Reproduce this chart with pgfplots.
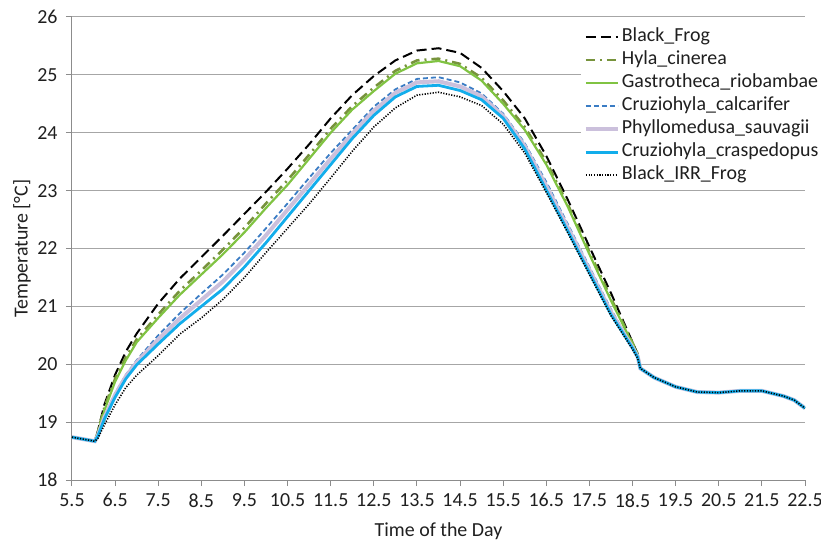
\documentclass[border=0pt]{standalone}
\usepackage{fontspec}
\setmainfont{Carlito}
\usepackage{pgfplots}
\pgfplotsset{compat=1.18}
\definecolor{hyla}{HTML}{77933C}
\definecolor{gastro}{HTML}{80C342}
\definecolor{calc}{HTML}{3A7CC4}
\definecolor{phyllo}{HTML}{CBC0DC}
\definecolor{crasp}{HTML}{12ADEB}
\definecolor{gridc}{HTML}{A6A6A6}
\definecolor{axc}{HTML}{8C8C8C}
\begin{document}
\begin{tikzpicture}
\begin{axis}[
  at={(0,0)}, anchor=south west,
  scale only axis, width=733bp, height=463bp,
  xmin=5.5, xmax=22.5, ymin=18, ymax=26,
  xtick={5.5,6.5,7.5,8.5,9.5,10.5,11.5,12.5,13.5,14.5,15.5,16.5,17.5,18.5,19.5,20.5,21.5,22.5},
  ytick={18,19,20,21,22,23,24,25,26},
  /pgf/number format/assume math mode=true,
  x tick label style={/pgf/number format/.cd, fixed, fixed zerofill, precision=1, /tikz/.cd, yshift=-4bp},
  y tick label style={xshift=-5bp},
  tick align=outside, major tick length=6bp,
  axis x line*=bottom, axis y line*=left,
  ymajorgrids, grid style={color=gridc, line width=1bp},
  axis line style={color=axc, line width=1bp},
  tick style={color=axc, line width=1bp},
  ticklabel style={font=\fontsize{20}{23}\selectfont, text=black!88},
  xlabel={Time of the Day}, ylabel={Temperature [°C]},
  xlabel style={at={([yshift=-51bp]axis description cs:0.5,0)}, anchor=center, font=\fontsize{20}{23}\selectfont, text=black!88},
  ylabel style={at={([xshift=-50bp]axis description cs:0,0.5)}, anchor=center, font=\fontsize{20}{23}\selectfont, text=black!88},
  legend style={at={(0.694,0.986)}, anchor=north west, draw=none, fill=white,
    font=\fontsize{20}{23}\selectfont, text=black!88, row sep=0bp,
    nodes={inner ysep=2bp, inner xsep=1bp, text height=14bp, text depth=5bp},
    /tikz/every odd column/.append style={column sep=1bp}},
  legend cell align=left,
  legend image code/.code={\draw[#1] (0bp,0bp) -- (32bp,0bp);},
]
% Black_Frog
\addplot[black, line width=2bp, dash pattern=on 10bp off 5bp] coordinates {
(5.5,18.74)(6.03,18.67)(6.1,18.85)(6.25,19.3)(6.5,19.82)(6.75,20.22)(7.0,20.53)(7.5,21.05)(8.0,21.48)(8.5,21.85)(9.0,22.22)(9.5,22.6)(10.0,22.98)(10.5,23.38)(11.0,23.8)(11.5,24.25)(12.0,24.65)(12.5,24.98)(13.0,25.25)(13.5,25.42)(14.0,25.46)(14.5,25.38)(15.0,25.12)(15.5,24.72)(16.0,24.25)(16.5,23.6)(17.0,22.84)(17.5,22.03)(18.0,21.23)(18.5,20.38)(18.62,20.18)(18.68,19.93)
(19.0,19.77)(19.5,19.61)(20.0,19.52)(20.5,19.51)(21.0,19.54)(21.5,19.54)(22.0,19.45)(22.25,19.38)(22.5,19.24)};
\addlegendentry{Black\_Frog}
% Hyla_cinerea
\addplot[hyla, line width=2.6bp, dash pattern=on 9bp off 5bp on 2bp off 5bp] coordinates {
(5.5,18.74)(6.03,18.67)(6.1,18.84)(6.25,19.25)(6.5,19.75)(6.75,20.12)(7.0,20.43)(7.5,20.86)(8.0,21.27)(8.5,21.62)(9.0,21.98)(9.5,22.36)(10.0,22.78)(10.5,23.18)(11.0,23.62)(11.5,24.07)(12.0,24.46)(12.5,24.78)(13.0,25.07)(13.5,25.25)(14.0,25.28)(14.5,25.19)(15.0,24.95)(15.5,24.56)(16.0,24.1)(16.5,23.5)(17.0,22.76)(17.5,21.94)(18.0,21.14)(18.5,20.37)(18.62,20.18)(18.68,19.93)
(19.0,19.77)(19.5,19.61)(20.0,19.52)(20.5,19.51)(21.0,19.54)(21.5,19.54)(22.0,19.45)(22.25,19.38)(22.5,19.24)};
\addlegendentry{Hyla\_cinerea}
% Gastrotheca_riobambae
\addplot[gastro, line width=2.2bp] coordinates {
(5.5,18.74)(6.03,18.67)(6.1,18.82)(6.25,19.2)(6.5,19.7)(6.75,20.07)(7.0,20.38)(7.5,20.8)(8.0,21.2)(8.5,21.55)(9.0,21.9)(9.5,22.28)(10.0,22.7)(10.5,23.1)(11.0,23.55)(11.5,24.0)(12.0,24.4)(12.5,24.72)(13.0,25.02)(13.5,25.2)(14.0,25.24)(14.5,25.15)(15.0,24.9)(15.5,24.5)(16.0,24.05)(16.5,23.45)(17.0,22.72)(17.5,21.9)(18.0,21.1)(18.5,20.35)(18.62,20.17)(18.68,19.93)
(19.0,19.77)(19.5,19.61)(20.0,19.52)(20.5,19.51)(21.0,19.54)(21.5,19.54)(22.0,19.45)(22.25,19.38)(22.5,19.24)};
\addlegendentry{Gastrotheca\_riobambae}
% Cruziohyla_calcarifer
\addplot[calc, line width=1.8bp, dash pattern=on 5bp off 3bp] coordinates {
(5.5,18.74)(6.03,18.67)(6.1,18.78)(6.25,19.1)(6.5,19.5)(6.75,19.82)(7.0,20.07)(7.5,20.5)(8.0,20.88)(8.5,21.22)(9.0,21.55)(9.5,21.93)(10.0,22.35)(10.5,22.78)(11.0,23.22)(11.5,23.65)(12.0,24.05)(12.5,24.45)(13.0,24.75)(13.5,24.93)(14.0,24.96)(14.5,24.87)(15.0,24.68)(15.5,24.33)(16.0,23.82)(16.5,23.15)(17.0,22.42)(17.5,21.68)(18.0,20.95)(18.5,20.3)(18.62,20.14)(18.68,19.93)
(19.0,19.77)(19.5,19.61)(20.0,19.52)(20.5,19.51)(21.0,19.54)(21.5,19.54)(22.0,19.45)(22.25,19.38)(22.5,19.24)};
\addlegendentry{Cruziohyla\_calcarifer}
% Phyllomedusa_sauvagii
\addplot[phyllo, line width=4bp] coordinates {
(5.5,18.74)(6.03,18.67)(6.1,18.77)(6.25,19.08)(6.5,19.47)(6.75,19.79)(7.0,20.03)(7.5,20.43)(8.0,20.79)(8.5,21.11)(9.0,21.43)(9.5,21.81)(10.0,22.23)(10.5,22.67)(11.0,23.11)(11.5,23.55)(12.0,23.98)(12.5,24.38)(13.0,24.69)(13.5,24.87)(14.0,24.89)(14.5,24.8)(15.0,24.63)(15.5,24.29)(16.0,23.77)(16.5,23.08)(17.0,22.36)(17.5,21.63)(18.0,20.9)(18.5,20.29)(18.62,20.13)(18.68,19.93)
(19.0,19.77)(19.5,19.61)(20.0,19.52)(20.5,19.51)(21.0,19.54)(21.5,19.54)(22.0,19.45)(22.25,19.38)(22.5,19.24)};
\addlegendentry{Phyllomedusa\_sauvagii}
% Cruziohyla_craspedopus
\addplot[crasp, line width=2.8bp] coordinates {
(5.5,18.74)(6.03,18.67)(6.1,18.76)(6.25,19.05)(6.5,19.43)(6.75,19.75)(7.0,19.99)(7.5,20.35)(8.0,20.7)(8.5,21.0)(9.0,21.3)(9.5,21.68)(10.0,22.1)(10.5,22.55)(11.0,23.0)(11.5,23.45)(12.0,23.9)(12.5,24.3)(13.0,24.62)(13.5,24.8)(14.0,24.82)(14.5,24.73)(15.0,24.57)(15.5,24.25)(16.0,23.72)(16.5,23.01)(17.0,22.3)(17.5,21.58)(18.0,20.86)(18.5,20.28)(18.62,20.12)(18.68,19.93)
(19.0,19.77)(19.5,19.61)(20.0,19.52)(20.5,19.51)(21.0,19.54)(21.5,19.54)(22.0,19.45)(22.25,19.38)(22.5,19.24)};
\addlegendentry{Cruziohyla\_craspedopus}
% Black_IRR_Frog
\addplot[black, line width=1.6bp, dash pattern=on 1.2bp off 1.5bp] coordinates {
(5.5,18.74)(6.03,18.67)(6.1,18.72)(6.25,18.95)(6.5,19.3)(6.75,19.6)(7.0,19.81)(7.5,20.15)(8.0,20.52)(8.5,20.8)(9.0,21.12)(9.5,21.5)(10.0,21.93)(10.5,22.35)(11.0,22.77)(11.5,23.22)(12.0,23.68)(12.5,24.1)(13.0,24.43)(13.5,24.65)(14.0,24.7)(14.5,24.62)(15.0,24.47)(15.5,24.15)(16.0,23.65)(16.5,22.97)(17.0,22.27)(17.5,21.55)(18.0,20.84)(18.5,20.26)(18.62,20.1)(18.68,19.93)
(19.0,19.77)(19.5,19.61)(20.0,19.52)(20.5,19.51)(21.0,19.54)(21.5,19.54)(22.0,19.45)(22.25,19.38)(22.5,19.24)};
\addlegendentry{Black\_IRR\_Frog}
\end{axis}
\pgfresetboundingbox
\path (-72bp,-62bp) rectangle (749bp,480bp);
\end{tikzpicture}
\end{document}
